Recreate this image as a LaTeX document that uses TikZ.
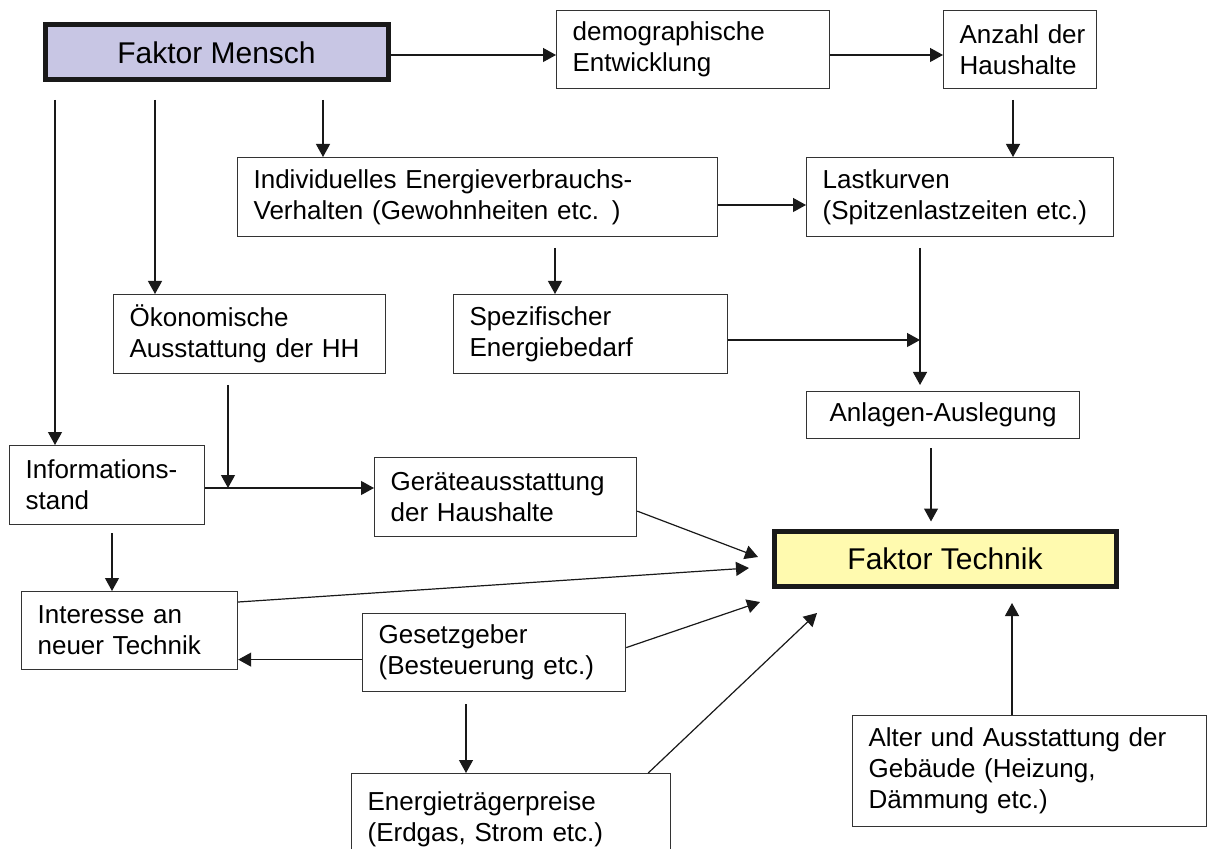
\documentclass[tikz,border=0pt]{standalone}
\usepackage{fontspec}
\setmainfont{Liberation Sans}
\usetikzlibrary{arrows.meta}

\definecolor{menschfill}{RGB}{200,198,228}
\definecolor{technikfill}{RGB}{255,250,175}

\tikzset{
  box/.style={draw=black!80, line width=0.6pt, anchor=north west, align=left,
    inner xsep=8pt, inner ysep=0pt, font=\fontsize{13}{15.5}\selectfont},
  factor/.style={draw=black!90, line width=2.5pt, anchor=north west, align=center,
    inner sep=0pt, font=\fontsize{15}{18}\selectfont},
  arr/.style={-{Triangle[length=6.5pt,width=7pt]}, line width=0.6pt, black!90},
}

\begin{document}
\begin{tikzpicture}[x=0.5pt, y=-0.5pt]

    % page frame
    \useasboundingbox (0,0) rectangle (1208,849);

    % the two main factors
    \node[factor, fill=menschfill, minimum width=171.5pt, minimum height=27.5pt] (mensch) at (42.5,22.5) {Faktor Mensch};
    \node[factor, fill=technikfill, minimum width=171pt, minimum height=27.5pt] (technik) at (771.5,528.5) {Faktor Technik};

    % influence boxes
    \node[box, text width=120.5pt, minimum height=39pt] (demo) at (556,10) {demographische\\Entwicklung};
    \node[box, text width=60.5pt, minimum height=39pt] (anzahl) at (943,10) {Anzahl~der\\Haushalte};
    \node[box, text width=224pt, minimum height=39.5pt] (indiv) at (237,157) {Individuelles Energieverbrauchs-\\Verhalten (Gewohnheiten etc. )};
    \node[box, text width=137.5pt, minimum height=39.5pt] (last) at (806,157) {Lastkurven\\(Spitzenlastzeiten etc.)};
    \node[box, text width=120pt, minimum height=39.5pt] (oeko) at (113,294) {Ökonomische\\Ausstattung der HH};
    \node[box, text width=121pt, minimum height=39.5pt] (spez) at (453,294) {Spezifischer\\Energiebedarf};
    \node[box, align=center, text width=120.5pt, minimum height=23.5pt] (anlagen) at (806,391) {Anlagen-Auslegung};
    \node[box, text width=81.5pt, minimum height=39.5pt] (info) at (9,445) {Informations-\\stand};
    \node[box, text width=115pt, minimum height=39.5pt] (geraete) at (374,457) {Geräteausstattung\\der Haushalte};
    \node[box, text width=92pt, minimum height=39pt] (interesse) at (21,591) {Interesse an\\neuer Technik};
    \node[box, text width=115.5pt, minimum height=39pt] (gesetz) at (362,613) {Gesetzgeber\\(Besteuerung etc.)};
    \node[box, text width=143.5pt, minimum height=46pt] (energie) at (351,773) {Energieträgerpreise\\(Erdgas, Strom etc.)};
    \node[box, text width=161pt, minimum height=55.5pt] (alter) at (852,715) {Alter und Ausstattung der\\Gebäude (Heizung,\\Dämmung etc.)};

    % free ends of connectors
    \coordinate (m1) at (55,100);
    \coordinate (m2) at (155,100);
    \coordinate (m3) at (323,100);
    \coordinate (a0) at (1013,100);
    \coordinate (i0) at (555,248);
    \coordinate (l0) at (920,248);
    \coordinate (l1) at (920,340);
    \coordinate (n0) at (931,448);
    \coordinate (o0) at (228,385);
    \coordinate (o1) at (228,488);
    \coordinate (f0) at (112,533);
    \coordinate (g0) at (466,704);
    \coordinate (t1) at (758,557);
    \coordinate (t2) at (749,568);
    \coordinate (t3) at (760,602);
    \coordinate (t4) at (817,613);
    \coordinate (t5) at (1012,603);

    % top row
    \draw[arr] (mensch.east |- 0,55) -- (demo.west |- 0,55);
    \draw[arr] (demo.east |- 0,55) -- (anzahl.west |- 0,55);
    \draw[arr] (a0) -- (a0 |- last.north);
    \draw[arr] (m1) -- (m1 |- info.north);
    \draw[arr] (m2) -- (m2 |- oeko.north);
    \draw[arr] (m3) -- (m3 |- indiv.north);

    % middle
    \draw[arr] (indiv.east |- 0,205) -- (last.west |- 0,205);
    \draw[arr] (i0) -- (i0 |- spez.north);
    \draw[arr, shorten >=3pt] (l0) -- (l0 |- anlagen.north);
    \draw[arr] (spez.east |- l1) -- (l1);
    \draw[arr, shorten >=3.5pt] (n0) -- (n0 |- technik.north);
    \draw[arr] (o0) -- (o1);
    \draw[arr] (info.east |- o1) -- (geraete.west |- o1);
    \draw[arr] (f0) -- (f0 |- interesse.north);

    % into Faktor Technik
    \draw[arr] ([yshift=-7pt]geraete.east) -- (t1);
    \draw[arr] ([yshift=-5.5pt]interesse.north east) -- (t2);
    \draw[arr] ([yshift=2.5pt]gesetz.east) -- (t3);
    \draw[arr] ([yshift=-3.5pt]gesetz.west) -- ([yshift=-3.5pt]gesetz.west -| interesse.east);
    \draw[arr] (g0) -- (g0 |- energie.north);
    \draw[arr] ([xshift=-11.5pt]energie.north east) -- (t4);
    \draw[arr] (alter.north -| t5) -- (t5);

\end{tikzpicture}
\end{document}
